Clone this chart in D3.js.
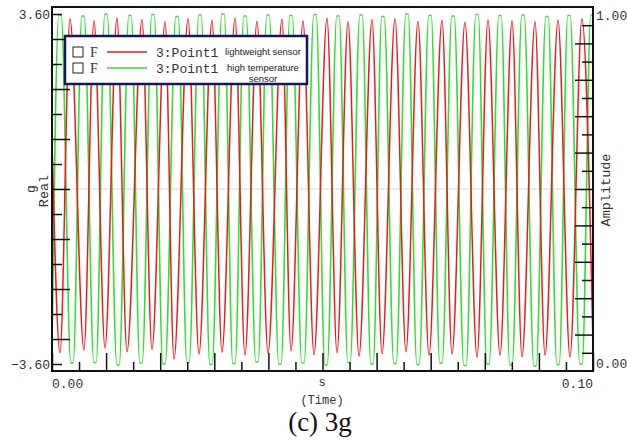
<!DOCTYPE html>
<html>
<head>
<meta charset="utf-8">
<script src="https://cdn.jsdelivr.net/npm/d3@7"></script>
<style>
  body { margin: 0; background: #fff; }
  svg { display: block; }
  .mono { font-family: "Liberation Mono", "DejaVu Sans Mono", monospace; fill: #333; }
  .axis path { display: none; }
  .axis line { stroke: #111; stroke-width: 1.5; }
</style>
</head>
<body>
<svg id="chart" width="627" height="444"></svg>
<script>
// red: lightweight sensor, peaks and troughs (time in s, value in g)
const redPeakT = [0.00333, 0.00776, 0.01201, 0.01664, 0.02089, 0.02514, 0.02957, 0.03383, 0.03789, 0.04251, 0.04639, 0.05083,
                  0.05471, 0.05915, 0.06340, 0.06765, 0.07209, 0.07634, 0.08059, 0.08503, 0.08928, 0.09353, 0.09796]
const redPeakV = [3.50, 3.46, 3.52, 3.48, 3.44, 3.50, 3.47, 3.52, 3.45, 3.49, 3.46, 3.51,
                  3.44, 3.48, 3.50, 3.45, 3.47, 3.43, 3.48, 3.46, 3.44, 3.47, 3.50]
const redTroughT = [0.00148, 0.00591, 0.00980, 0.01386, 0.01848, 0.02255, 0.02717, 0.03142, 0.03567, 0.03993, 0.04418, 0.04843,
                    0.05268, 0.05675, 0.06100, 0.06543, 0.06968, 0.07394, 0.07856, 0.08281, 0.08688, 0.09113, 0.09575]
const redTroughV = [-3.37, -3.31, -3.27, -3.35, -3.30, -3.50, -3.40, -3.36, -3.42, -3.38, -3.33, -3.41,
                    -3.37, -3.44, -3.39, -3.35, -3.42, -3.40, -3.46, -3.42, -3.45, -3.42, -3.46]
const redStart = 1.0, redEnd = -3.2

// green: high temperature sensor (flat-topped, plateau half width in s)
const greenPeakT = [0.00148, 0.00573, 0.00998, 0.01442, 0.01867, 0.02311, 0.02736, 0.03161, 0.03567, 0.03993, 0.04418, 0.04861,
                    0.05286, 0.05712, 0.06118, 0.06562, 0.06987, 0.07412, 0.07856, 0.08281, 0.08706, 0.09150, 0.09556, 0.09981]
const greenPeakV = [3.58, 3.56, 3.60, 3.57, 3.59, 3.55, 3.58, 3.60, 3.56, 3.58, 3.57, 3.59,
                    3.56, 3.58, 3.55, 3.60, 3.57, 3.56, 3.59, 3.57, 3.58, 3.55, 3.57, 3.58]
const greenTroughT = [0.00370, 0.00795, 0.01220, 0.01645, 0.02070, 0.02514, 0.02939, 0.03364, 0.03789, 0.04214, 0.04639, 0.05065,
                      0.05490, 0.05915, 0.06340, 0.06765, 0.07190, 0.07634, 0.08059, 0.08484, 0.08928, 0.09353, 0.09778]
const greenTroughV = [-3.58, -3.57, -3.62, -3.58, -3.60, -3.57, -3.61, -3.59, -3.56, -3.60, -3.58, -3.62,
                      -3.57, -3.60, -3.59, -3.61, -3.58, -3.63, -3.60, -3.62, -3.64, -3.61, -3.60]
const greenFlat = 0.00022
const greenStart = -3.3

const legendNames = ["lightweight sensor", "high temperature sensor"]
const legendColors = ["#e81c1c", "#2ee02e"]

const svg = d3.select("#chart")
const x = d3.scaleLinear().domain([0, 0.1]).range([52, 593])
const y = d3.scaleLinear().domain([-3.6, 3.6]).range([364, 14])
const yR = d3.scaleLinear().domain([0, 1]).range([371, 7])

function series(pT, pV, tT, tV, v0, v1, flat) {
    let ext = pT.map((t, i) => ({t: t, v: pV[i]}))
        .concat(tT.map((t, i) => ({t: t, v: tV[i]})))
    let pts = []
    ext.forEach(function (d) {
        if (flat) {
            pts.push({t: d.t - flat, v: d.v})
            pts.push({t: d.t + flat, v: d.v})
        } else pts.push(d)
    })
    pts.push({t: 0, v: v0})
    if (v1 !== undefined) pts.push({t: 0.1, v: v1})
    return pts.sort((a, b) => a.t - b.t)
}
const redData = series(redPeakT, redPeakV, redTroughT, redTroughV, redStart, redEnd)
const greenData = series(greenPeakT, greenPeakV, greenTroughT, greenTroughV, greenStart, undefined, greenFlat)

// grey zero line
svg.append("line")
    .attr("x1", 52).attr("x2", 593)
    .attr("y1", y(0)).attr("y2", y(0))
    .attr("stroke", "#dcdcdc").attr("stroke-width", 1)

svg.append("clipPath").attr("id", "clip")
    .append("rect").attr("x", 52).attr("y", 7).attr("width", 541).attr("height", 364)

let line = d3.line().x(d => x(d.t)).y(d => y(d.v)).curve(d3.curveMonotoneX)

svg.append("path").datum(greenData)
    .attr("clip-path", "url(#clip)")
    .attr("d", line).attr("fill", "none")
    .attr("stroke", legendColors[1]).attr("stroke-width", 1.6)
svg.append("path").datum(redData)
    .attr("clip-path", "url(#clip)")
    .attr("d", line).attr("fill", "none")
    .attr("stroke", legendColors[0]).attr("stroke-width", 1.5)

// ticks (inside the frame, long/short alternating)
const leftTicks = d3.range(-7, 8).map(k => 3.6 * k / 7)
const botTicks = d3.range(0, 21).map(k => k * 0.005)
const rightTicks = d3.range(1, 20).map(k => k * 0.05)

function tickSet(axisFn, scale, vals, size, tr) {
    svg.append("g").attr("class", "axis")
        .attr("transform", tr)
        .call(axisFn(scale).tickValues(vals).tickSize(size).tickSizeOuter(0).tickFormat(""))
}
tickSet(d3.axisRight, y, leftTicks.filter((d, i) => i % 2 === 1), 18, "translate(52,0)")
tickSet(d3.axisRight, y, leftTicks.filter((d, i) => i % 2 === 0), 10, "translate(52,0)")
tickSet(d3.axisTop, x, botTicks.filter((d, i) => i % 2 === 0), 18, "translate(0,371)")
tickSet(d3.axisTop, x, botTicks.filter((d, i) => i % 2 === 1), 9, "translate(0,371)")
tickSet(d3.axisLeft, yR, rightTicks.filter((d, i) => i % 2 === 1), 18, "translate(593,0)")
tickSet(d3.axisLeft, yR, rightTicks.filter((d, i) => i % 2 === 0), 11, "translate(593,0)")

// frame
svg.append("rect")
    .attr("x", 52).attr("y", 7).attr("width", 541).attr("height", 364)
    .attr("fill", "none").attr("stroke", "#111").attr("stroke-width", 2)

// tick labels
svg.append("text").attr("class", "mono").attr("x", 50).attr("y", y(3.6)).attr("dy", "0.35em")
    .attr("text-anchor", "end").attr("font-size", 13).text("3.60")
svg.append("text").attr("class", "mono").attr("x", 50).attr("y", y(-3.6)).attr("dy", "0.35em")
    .attr("text-anchor", "end").attr("font-size", 13).text("\u22123.60")
svg.append("text").attr("class", "mono").attr("x", 596).attr("y", 15).attr("dy", "0.35em")
    .attr("font-size", 13).text("1.00")
svg.append("text").attr("class", "mono").attr("x", 596).attr("y", 363).attr("dy", "0.35em")
    .attr("font-size", 13).text("0.00")
svg.append("text").attr("class", "mono").attr("x", x(0)).attr("y", 383).attr("dy", "0.35em")
    .attr("font-size", 13).text("0.00")
svg.append("text").attr("class", "mono").attr("x", x(0.1)).attr("y", 383).attr("dy", "0.35em")
    .attr("text-anchor", "end").attr("font-size", 13).text("0.10")

// axis labels
svg.append("text").attr("class", "mono").attr("x", 322).attr("y", 382).attr("dy", "0.35em")
    .attr("text-anchor", "middle").attr("font-size", 12).text("s")
svg.append("text").attr("class", "mono").attr("x", 322).attr("y", 400).attr("dy", "0.35em")
    .attr("text-anchor", "middle").attr("font-size", 12).text("(Time)")
svg.append("text").attr("class", "mono")
    .attr("transform", "translate(30,189) rotate(-90)").attr("dy", "0.35em")
    .attr("text-anchor", "middle").attr("font-size", 13).text("g")
svg.append("text").attr("class", "mono")
    .attr("transform", "translate(43,191) rotate(-90)").attr("dy", "0.35em")
    .attr("text-anchor", "middle").attr("font-size", 13.5).text("Real")
svg.append("text").attr("class", "mono")
    .attr("transform", "translate(605,190) rotate(-90)").attr("dy", "0.35em")
    .attr("text-anchor", "middle").attr("font-size", 13.5).text("Amplitude")

// legend
let lg = svg.append("g")
lg.append("rect").attr("x", 65).attr("y", 36).attr("width", 242).attr("height", 48)
    .attr("fill", "#fff").attr("stroke", "#15175a").attr("stroke-width", 2.5)
legendNames.forEach(function (d, i) {
    let row = lg.append("g").attr("transform", `translate(0,${52 + i * 16})`)
    row.append("rect").attr("x", 73).attr("y", -5).attr("width", 10).attr("height", 10)
        .attr("fill", "#fff").attr("stroke", "#222").attr("stroke-width", 1)
    row.append("text").attr("x", 90).attr("dy", "0.35em")
        .attr("font-family", "Liberation Serif, serif").attr("font-size", 14).attr("fill", "#333").text("F")
    row.append("line").attr("x1", 107).attr("x2", 147).attr("y1", 0).attr("y2", 0)
        .attr("stroke", legendColors[i]).attr("stroke-width", 1.5)
    row.append("text").attr("class", "mono").attr("x", 156).attr("dy", "0.35em")
        .attr("font-size", 13).text("3:Point1")
    let words = i === 0 ? [d] : ["high temperature", "sensor"]
    words.forEach(function (w, j) {
        row.append("text").attr("x", 263).attr("y", j * 11).attr("dy", "0.35em")
            .attr("text-anchor", "middle")
            .attr("font-family", "Liberation Sans, Arial, sans-serif").attr("font-size", 9.5)
            .attr("fill", "#222").text(w)
    })
})

// caption
svg.append("text").attr("x", 320).attr("y", 431)
    .attr("text-anchor", "middle")
    .attr("font-family", "Liberation Serif, Times New Roman, serif").attr("font-size", 27)
    .attr("fill", "#111").text("(c) 3g")
</script>
</body>
</html>
